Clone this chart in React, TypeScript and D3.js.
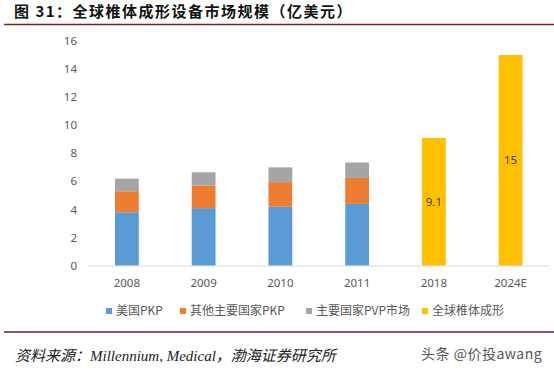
import React from 'react';
import * as d3 from 'd3';

const years = ['2008', '2009', '2010', '2011', '2018', '2024E'];
const usPkp = [3.8, 4.1, 4.2, 4.4, 0, 0];
const otherPkp = [1.5, 1.6, 1.75, 1.85, 0, 0];
const pvp = [0.9, 0.95, 1.05, 1.1, 0, 0];
const globalTotal = [0, 0, 0, 0, 9.1, 15];
const yTicks = [0, 2, 4, 6, 8, 10, 12, 14, 16];

const seriesNames = ['美国PKP', '其他主要国家PKP', '主要国家PVP市场', '全球椎体成形'];
const colors = ['#5B9BD5', '#ED7D31', '#A5A5A5', '#FFC000'];

const W = 554;
const H = 373;
const cjk = '"Noto Sans CJK SC", "Noto Sans", sans-serif';

const App = () => {
  const x = d3.scaleBand().domain(years).range([88.5, 549]).paddingInner(0.69).paddingOuter(0.345);
  const y = d3.scaleLinear().domain([0, 16]).range([265.7, 41]);

  const table = years.map((yr, i) => ({ year: yr, us: usPkp[i], other: otherPkp[i], pvp: pvp[i], total: globalTotal[i] }));
  const stack = d3.stack<any>().keys(['us', 'other', 'pvp', 'total'])(table);

  const legendX = [106, 180, 306, 422];

  return (
    <svg width={W} height={H} style={{ position: 'absolute', left: 0, top: 0, background: '#fff' }}>
      <text x={14} y={17} fontFamily={cjk} fontWeight="bold" fontSize={15} letterSpacing={1.5} fill="#111">
        图 31：全球椎体成形设备市场规模（亿美元）
      </text>
      <line x1={4} x2={554} y1={24.5} y2={24.5} stroke="#7f1d24" strokeWidth={1.5} />

      {yTicks.map(t => (
        <text key={t} x={77} y={y(t)} dy="0.35em" textAnchor="end" fontFamily='"Noto Sans", sans-serif' fontSize={11.5} fill="#595959">
          {t}
        </text>
      ))}

      {stack.map((s, si) => (
        <g key={si} fill={colors[si]}>
          {s.map((d, i) =>
            d[1] - d[0] > 0 ? (
              <rect key={i} x={x(years[i])} width={x.bandwidth()} y={y(d[1])} height={y(d[0]) - y(d[1])} />
            ) : null
          )}
        </g>
      ))}

      <line x1={88.5} x2={549} y1={266} y2={266} stroke="#D9D9D9" strokeWidth={1} />

      {globalTotal.map((v, i) =>
        v > 0 ? (
          <text key={i} x={x(years[i])! + x.bandwidth() / 2} y={y(v / 2)} dy="0.35em" textAnchor="middle" fontFamily='"Noto Sans", sans-serif' fontSize={11.5} fill="#404040">
            {v}
          </text>
        ) : null
      )}

      {years.map(yr => (
        <text key={yr} x={x(yr)! + x.bandwidth() / 2} y={282.5} dy="0.35em" textAnchor="middle" fontFamily='"Noto Sans", sans-serif' fontSize={11.5} fill="#595959">
          {yr}
        </text>
      ))}

      {seriesNames.map((n, i) => (
        <g key={n}>
          <rect x={legendX[i]} y={308} width={6} height={6} fill={colors[i]} />
          <text x={legendX[i] + 10} y={311} dy="0.35em" fontFamily={cjk} fontSize={12} fill="#595959">
            {n}
          </text>
        </g>
      ))}

      <line x1={4} x2={554} y1={332} y2={332} stroke="#6b1d24" strokeWidth={1.5} />

      <text x={15} y={361} fontFamily='"Liberation Serif", "Noto Sans CJK SC", serif' fontStyle="italic" fontSize={15} fill="#222">
        资料来源：Millennium, Medical，渤海证券研究所
      </text>
      <text x={421} y={354} dy="0.35em" fontFamily={cjk} fontSize={14} letterSpacing={0.5} fill="#555">
        头条 @价投awang
      </text>
    </svg>
  );
};

export default App;
